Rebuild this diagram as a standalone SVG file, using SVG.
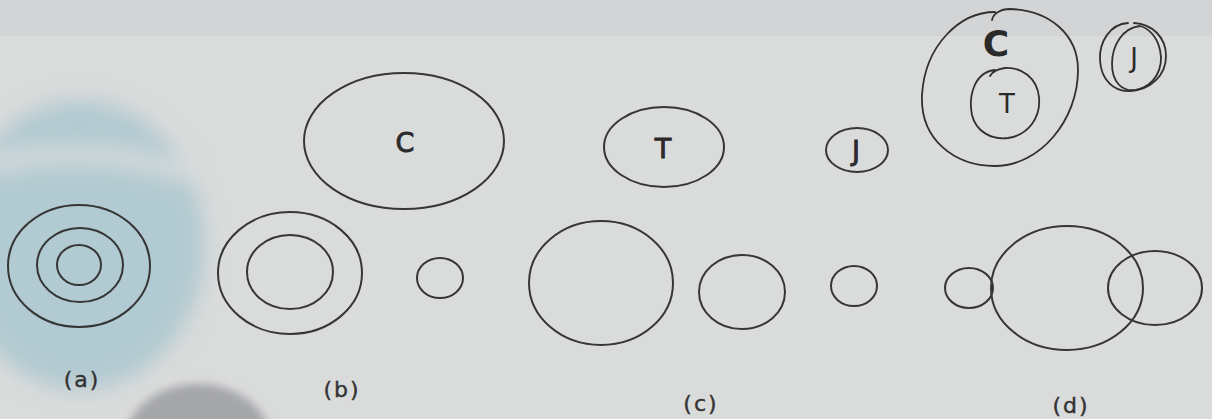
<svg xmlns="http://www.w3.org/2000/svg" width="1212" height="419" viewBox="0 0 1212 419">
<style>
.ln{fill:none;stroke:#363636;stroke-width:2}
.hw{fill:none;stroke:#303030;stroke-width:1.8;stroke-linecap:round}
.lbl{font-family:"DejaVu Sans",sans-serif;font-size:22px;letter-spacing:2px;fill:#333;stroke:#333;stroke-width:0.4;text-anchor:middle}
.set{font-family:"DejaVu Sans",sans-serif;font-size:27px;fill:#2a2a2a;stroke:#2a2a2a;stroke-width:0.9;text-anchor:middle}
.hand{font-family:"DejaVu Sans",sans-serif;fill:#2a2a2a;text-anchor:middle}
</style>
<defs>
<filter id="blur" x="-30%" y="-30%" width="160%" height="160%"><feGaussianBlur stdDeviation="10"/></filter>
<filter id="blur2" x="-30%" y="-30%" width="160%" height="160%"><feGaussianBlur stdDeviation="4"/></filter>
</defs>
<!-- paper -->
<rect width="1212" height="419" fill="#dadbdb"/>
<rect width="1212" height="36" fill="#d3d4d6"/>
<g filter="url(#blur)">
<ellipse cx="80" cy="245" rx="125" ry="145" fill="#b2cad1"/>
<path d="M-10,165 Q90,140 190,175" fill="none" stroke="#d4dadc" stroke-width="18"/>
</g>
<ellipse cx="198" cy="440" rx="72" ry="56" fill="#a4a6aa" filter="url(#blur2)"/>

<g id="venn-a">
<ellipse class="ln" cx="79" cy="266" rx="71" ry="61"/>
<ellipse class="ln" cx="80" cy="265" rx="43" ry="37"/>
<ellipse class="ln" cx="79" cy="265" rx="22" ry="20"/>
<text class="lbl" x="82" y="387">(a)</text>
</g>

<g id="venn-b">
<ellipse class="ln" cx="290" cy="273" rx="72" ry="61"/>
<ellipse class="ln" cx="290" cy="272" rx="43" ry="37"/>
<ellipse class="ln" cx="440" cy="278" rx="23" ry="20"/>
<text class="lbl" x="342" y="397">(b)</text>
</g>

<g id="venn-c">
<ellipse class="ln" cx="601" cy="283" rx="72" ry="62"/>
<ellipse class="ln" cx="742" cy="292" rx="43" ry="37"/>
<ellipse class="ln" cx="854" cy="286" rx="23" ry="20"/>
<text class="lbl" x="701" y="411">(c)</text>
</g>

<g id="venn-d">
<ellipse class="ln" cx="969" cy="288" rx="24" ry="20"/>
<ellipse class="ln" cx="1067" cy="288" rx="76" ry="62"/>
<ellipse class="ln" cx="1155" cy="288" rx="47" ry="37"/>
<text class="lbl" x="1071" y="413">(d)</text>
</g>

<g id="set-C">
<ellipse class="ln" cx="404" cy="141" rx="100" ry="68"/>
<text class="set" x="405" y="152">C</text>
</g>
<g id="set-T">
<ellipse class="ln" cx="664" cy="147" rx="60" ry="40"/>
<text class="set" x="663" y="158">T</text>
</g>
<g id="set-J">
<ellipse class="ln" cx="857" cy="150" rx="31" ry="22"/>
<text class="set" x="856" y="160">J</text>
</g>

<g id="hand-C">
<path class="hw" d="M995,12 C960,12 925,45 922,95 C920,140 955,166 995,166 C1040,166 1078,120 1078,70 C1078,35 1050,10 1010,9 C1000,9 993,14 992,20"/>
<text class="hand" x="996" y="56" font-size="36" font-weight="bold">C</text>
</g>
<g id="hand-T">
<path class="hw" d="M995,70 C975,72 968,95 972,115 C976,132 992,140 1008,138 C1028,135 1041,118 1039,97 C1037,78 1022,67 1005,68 C998,69 992,72 990,76"/>
<text class="hand" x="1007" y="113" font-size="26">T</text>
</g>
<g id="hand-J">
<path class="hw" d="M1128,23 C1110,24 1099,42 1100,60 C1101,80 1114,92 1130,91 C1150,90 1166,76 1166,56 C1166,37 1152,24 1134,23"/>
<path class="hw" d="M1140,26 C1122,28 1112,46 1112,64 C1112,82 1122,92 1136,90 C1155,86 1164,68 1160,50 C1157,36 1148,28 1140,26"/>
<text class="hand" x="1134" y="67" font-size="26">J</text>
</g>
</svg>
